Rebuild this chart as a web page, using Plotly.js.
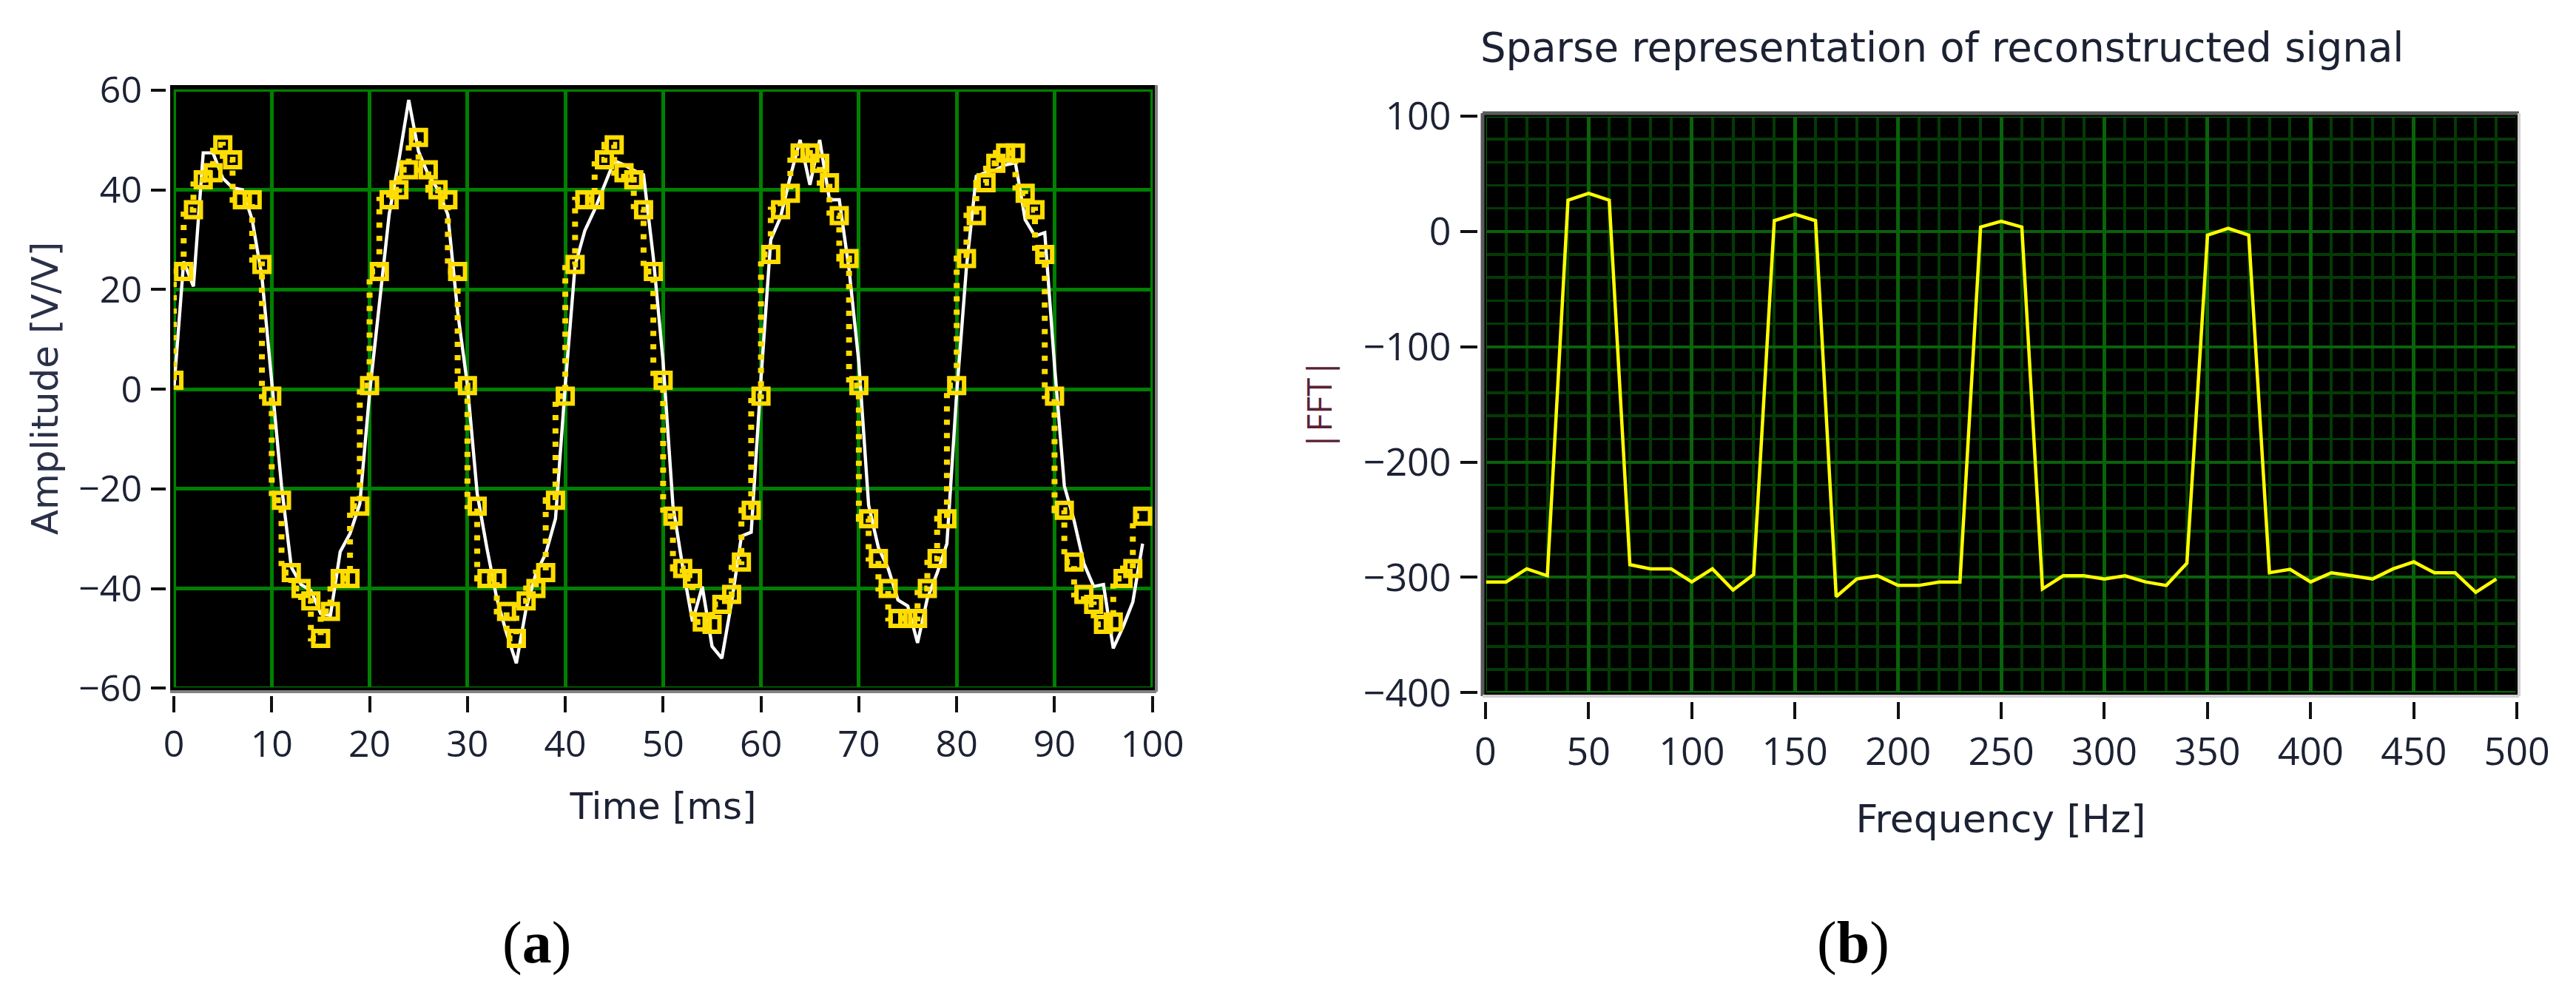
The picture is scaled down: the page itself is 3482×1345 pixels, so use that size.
<!DOCTYPE html>
<html><head><meta charset="utf-8">
<script src="https://cdn.plot.ly/plotly-3.0.1.min.js"></script>
<style>html,body{margin:0;padding:0;background:#fff}#g{width:3482px;height:1345px}</style>
</head><body><div id="g"></div>
<script>
const sampleTimes=[0,1,2,3,4,5,6,7,8,9,10,11,12,13,14,15,16,17,18,19,20,21,22,23,24,25,26,27,28,29,30,31,32,33,34,35,36,37,38,39,40,41,42,43,44,45,46,47,48,49,50,51,52,53,54,55,56,57,58,59,60,61,62,63,64,65,66,67,68,69,70,71,72,73,74,75,76,77,78,79,80,81,82,83,84,85,86,87,88,89,90,91,92,93,94,95,96,97,98,99];
const whiteSignal=[0,25.6,20.6,47.4,47.4,42.3,40.4,40,34,22.5,1.5,-19.4,-35.7,-39.2,-40.4,-45,-45.4,-32.6,-29,-23,-0.8,17.5,35,46,58,47.7,43,40,35,15.5,0.8,-21,-32,-42,-49,-55,-44,-37,-33,-26,0.8,24.8,31.8,36,41,45.8,45,43.9,43,26.4,5.4,-23.3,-35.7,-46.6,-39.6,-51.6,-54,-42.7,-29.5,-28.7,2,30,34.5,42.7,50,41,50,38,38,24,5.4,-23.3,-31.8,-36,-42.3,-43.5,-50.9,-42,-36.9,-31,-0.8,24.5,42.7,43.5,44,45,45.4,34,30.7,31.4,4.7,-19.4,-26.4,-35,-39.6,-39.2,-52,-47.7,-42.7,-31];
const yellowSignal=[1.8,23.6,36,42,43.4,49,46,38,38,25,-1.4,-22.3,-36.8,-40,-42.5,-50,-44.6,-38,-38,-23.5,0.7,23.6,38,40,44,50.5,44,40,38,23.6,0.7,-23.5,-38,-38,-44.6,-50,-42.5,-40,-36.8,-22.3,-1.4,25,38,38,46,49,43.4,42,36,23.6,1.8,-25.5,-36,-38,-46.7,-47.2,-43.2,-41.2,-34.7,-24.3,-1.4,27,36,39.3,47.4,47.4,45.3,41.4,34.8,26.2,0.7,-26,-34,-40,-46,-46,-46,-40,-34,-26,0.7,26.2,34.8,41.4,45.3,47.4,47.4,39.3,36,27,-1.4,-24.3,-34.7,-41.2,-43.2,-47.2,-46.7,-38,-36,-25.5];
const freqs=[0,10,20,30,40,50,60,70,80,90,100,110,120,130,140,150,160,170,180,190,200,210,220,230,240,250,260,270,280,290,300,310,320,330,340,350,360,370,380,390,400,410,420,430,440,450,460,470,480,490];
const fftMag=[-304,-304,-292.6,-298.6,27,33,27,-289,-292.6,-292.6,-304,-292.6,-311,-297.5,9.3,14.8,9.3,-316.7,-301.4,-298.6,-307,-307,-304,-304,3.8,8.8,3.8,-310,-298.6,-298.6,-301.4,-298.6,-304,-307,-287.7,-3.3,2.7,-3.3,-296,-293,-304,-296,-298.6,-301.4,-292.6,-286.6,-296,-296,-313,-301.4];
const timeTicks=[0,10,20,30,40,50,60,70,80,90,100];
const ampTicks=[-60,-40,-20,0,20,40,60];
const freqTicks=[0,50,100,150,200,250,300,350,400,450,500];
const fftTicks=[-400,-300,-200,-100,0,100];

const W=3482,H=1345,FONT='"Open Sans", sans-serif',TITLEFONT='"DejaVu Sans", sans-serif',INK='#1c2233';
const px=v=>v/W, py=v=>1-v/H;
const traces=[
 {x:sampleTimes,y:whiteSignal,mode:'lines',line:{color:'#ffffff',width:4.4},xaxis:'x',yaxis:'y',hoverinfo:'skip'},
 {x:sampleTimes,y:yellowSignal,mode:'lines+markers',line:{color:'#FFDD00',width:8,dash:'7px,11px',shape:'vh'},
  marker:{symbol:'square-open',size:20,color:'#FFDD00',line:{color:'#FFDD00',width:6}},xaxis:'x',yaxis:'y',hoverinfo:'skip'},
 {x:freqs,y:fftMag,mode:'lines',line:{color:'#FFFF00',width:4.5},xaxis:'x2',yaxis:'y2',hoverinfo:'skip'}
];
function strips(xa,ya,sx,sy){return [
 [0,sx,0,1],[1-sx,1,0,1],[0,1,0,sy],[0,1,1-sy,1]
].map(r=>({type:'rect',layer:'above',xref:xa+' domain',yref:ya+' domain',x0:r[0],x1:r[1],y0:r[2],y1:r[3],fillcolor:'#000',line:{width:0}}));}
function edge(xa,ya,x0,y0,x1,y1,c,w){return {type:'line',layer:'above',xref:xa+' domain',yref:ya+' domain',x0,y0,x1,y1,line:{color:c,width:w}};}
const tf=s=>({family:FONT,size:s,color:INK});
const af=s=>({family:TITLEFONT,size:s,color:INK});
const layout={
 width:W,height:H,margin:{l:0,r:0,t:0,b:0},autosize:false,showlegend:false,paper_bgcolor:'#fff',plot_bgcolor:'#000',
 title:{text:'Sparse representation of reconstructed signal',xref:'paper',yref:'paper',x:px(2001),xanchor:'left',y:py(64),yanchor:'middle',font:af(54.5)},
 xaxis:{domain:[px(230),px(1563)],range:[-0.38,100.4],anchor:'free',position:py(940),tickmode:'array',tickvals:timeTicks,ticks:'outside',ticklen:22,tickwidth:4,tickcolor:'#111',
  showgrid:true,gridcolor:'#008000',gridwidth:5,zeroline:false,showline:false,tickfont:tf(50),ticklabelstandoff:0,
  title:{text:'Time [ms]',font:af(50),standoff:34}},
 yaxis:{domain:[py(935),py(115)],range:[-60.7,61],anchor:'free',position:px(224),tickmode:'array',tickvals:ampTicks,ticks:'outside',ticklen:20,tickwidth:4,tickcolor:'#111',
  showgrid:true,gridcolor:'#008000',gridwidth:5,zeroline:false,showline:false,tickfont:tf(50),ticklabelstandoff:2,
  title:{text:'Amplitude [V/V]',font:{family:TITLEFONT,size:50,color:'#2a3048'},standoff:10}},
 xaxis2:{domain:[px(2004),px(3405)],range:[-1.4,501],anchor:'free',position:py(948),tickmode:'array',tickvals:freqTicks,ticks:'outside',ticklen:23,tickwidth:4,tickcolor:'#111',
  showgrid:true,gridcolor:'#0a620a',gridwidth:5,zeroline:false,showline:false,tickfont:tf(52),ticklabelstandoff:0,
  minor:{dtick:10,tick0:0,showgrid:true,gridcolor:'#053a05',gridwidth:4,ticks:''},
  title:{text:'Frequency [Hz]',font:af(52),standoff:40}},
 yaxis2:{domain:[py(941),py(153)],range:[-403,102.5],anchor:'free',position:px(1997),tickmode:'array',tickvals:fftTicks,ticks:'outside',ticklen:23,tickwidth:4,tickcolor:'#111',
  showgrid:true,gridcolor:'#0a620a',gridwidth:4,zeroline:false,showline:false,tickfont:tf(52),ticklabelstandoff:2,
  minor:{dtick:20,tick0:0,showgrid:true,gridcolor:'#053a05',gridwidth:3.5,ticks:''},
  title:{text:'|FFT|',font:{family:FONT,size:46,color:'#5a1f38'},standoff:26}},
 shapes:[
  ...strips('x','y',0.0035,0.007),...strips('x2','y2',0.0034,0.006),
  edge('x','y',0,0,1,0,'#808080',4),edge('x','y',1,0,1,1,'#808080',4),
  edge('x2','y2',0,0,0,1,'#5a5a5a',5),edge('x2','y2',0,1,1,1,'#5a5a5a',5),
  edge('x2','y2',0,0,1,0,'#d0d0d0',4),edge('x2','y2',1,0,1,1,'#d0d0d0',4)
 ],
 annotations:[
  {text:'(<b>a</b>)',xref:'paper',yref:'paper',x:px(725),y:py(1274),xanchor:'center',yanchor:'middle',showarrow:false,font:{family:'"Liberation Serif", serif',size:80,color:'#000'}},
  {text:'(<b>b</b>)',xref:'paper',yref:'paper',x:px(2505),y:py(1274),xanchor:'center',yanchor:'middle',showarrow:false,font:{family:'"Liberation Serif", serif',size:80,color:'#000'}}
 ]
};
Plotly.newPlot('g',traces,layout,{staticPlot:true,displayModeBar:false});
</script></body></html>
